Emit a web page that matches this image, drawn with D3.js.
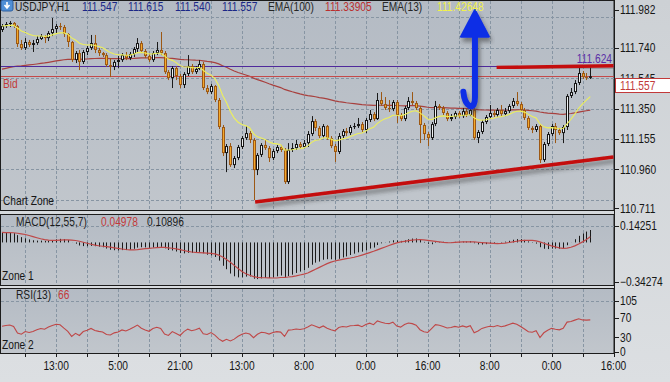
<!DOCTYPE html>
<html>
<head>
<meta charset="utf-8">
<title>USDJPY H1</title>
<script src="https://d3js.org/d3.v7.min.js"></script>
<style>
  body { margin: 0; background: #d3d6d9; }
  svg text { font-family: "Liberation Sans", Arial, sans-serif; font-size: 12px; }
</style>
</head>
<body>
<div id="chart"></div>
<script>
// ---- data (H1 bars, oldest first) ----
var firstOpen = 111.854;
var closes = [
  111.879,111.892,111.899,111.879,111.764,111.738,111.777,111.758,111.770,111.796,
  111.815,111.802,111.834,111.860,111.879,111.873,111.828,111.777,111.661,111.706,
  111.649,111.713,111.738,111.770,111.726,111.706,111.693,111.629,111.617,111.649,
  111.661,111.693,111.674,111.700,111.732,111.770,111.719,111.687,111.661,111.706,
  111.726,111.706,111.584,111.546,111.610,111.559,111.501,111.572,111.623,111.584,
  111.604,111.636,111.482,111.456,111.495,111.405,111.232,111.065,111.110,110.988,
  111.033,111.104,111.161,111.193,111.149,110.956,111.053,111.117,111.097,111.033,
  111.078,111.104,111.085,110.879,111.085,111.097,111.123,111.104,111.129,111.187,
  111.270,111.226,111.174,111.238,111.161,111.110,111.072,111.174,111.206,111.193,
  111.232,111.238,111.251,111.213,111.277,111.315,111.283,111.405,111.379,111.354,
  111.347,111.392,111.309,111.283,111.354,111.399,111.386,111.354,111.245,111.187,
  111.161,111.251,111.367,111.354,111.322,111.283,111.296,111.322,111.302,111.334,
  111.309,111.341,111.161,111.200,111.264,111.296,111.322,111.309,111.341,111.315,
  111.334,111.367,111.399,111.379,111.341,111.290,111.226,111.213,111.238,111.020,
  111.123,111.187,111.238,111.213,111.193,111.232,111.431,111.456,111.514,111.578,
  111.552,111.547,111.557];
var highs = [
  111.892,111.905,111.911,111.905,111.886,111.790,111.802,111.790,111.790,111.815,
  111.828,111.822,111.847,111.931,111.892,111.899,111.886,111.834,111.783,111.719,
  111.726,111.726,111.751,111.822,111.822,111.738,111.713,111.706,111.674,111.661,
  111.687,111.706,111.713,111.713,111.745,111.802,111.783,111.732,111.700,111.719,
  111.777,111.841,111.719,111.597,111.623,111.623,111.572,111.584,111.693,111.636,
  111.623,111.661,111.649,111.501,111.508,111.501,111.418,111.245,111.123,111.129,
  111.046,111.117,111.174,111.238,111.206,111.161,111.065,111.129,111.149,111.110,
  111.091,111.117,111.117,111.097,111.129,111.129,111.149,111.136,111.149,111.206,
  111.302,111.283,111.238,111.251,111.245,111.174,111.123,111.193,111.219,111.226,
  111.245,111.258,111.290,111.264,111.290,111.341,111.328,111.450,111.456,111.424,
  111.405,111.405,111.405,111.322,111.367,111.424,111.456,111.399,111.367,111.258,
  111.200,111.264,111.399,111.379,111.367,111.334,111.315,111.334,111.334,111.354,
  111.347,111.367,111.354,111.213,111.277,111.309,111.373,111.341,111.354,111.373,
  111.354,111.379,111.418,111.456,111.392,111.354,111.302,111.238,111.251,111.251,
  111.136,111.200,111.251,111.258,111.226,111.245,111.443,111.482,111.533,111.610,
  111.591,111.578,111.615];
var lows = [
  111.841,111.867,111.873,111.867,111.745,111.726,111.726,111.745,111.713,111.758,
  111.790,111.770,111.783,111.815,111.834,111.854,111.809,111.745,111.649,111.642,
  111.597,111.636,111.693,111.726,111.706,111.687,111.681,111.617,111.552,111.597,
  111.610,111.649,111.661,111.661,111.681,111.713,111.706,111.674,111.649,111.649,
  111.693,111.693,111.572,111.533,111.482,111.533,111.482,111.482,111.559,111.572,
  111.572,111.597,111.469,111.443,111.443,111.392,111.219,111.046,110.943,110.976,
  110.969,111.020,111.091,111.149,111.129,110.764,110.924,111.040,111.085,111.008,
  111.020,111.065,111.072,110.867,110.867,111.072,111.085,111.091,111.097,111.104,
  111.174,111.206,111.161,111.161,111.149,111.097,111.008,111.059,111.161,111.174,
  111.181,111.219,111.226,111.200,111.193,111.264,111.270,111.277,111.367,111.341,
  111.328,111.334,111.258,111.270,111.270,111.341,111.373,111.341,111.129,111.149,
  111.110,111.149,111.238,111.341,111.309,111.270,111.270,111.283,111.290,111.290,
  111.296,111.302,111.149,111.129,111.187,111.251,111.283,111.296,111.296,111.302,
  111.302,111.322,111.354,111.367,111.328,111.277,111.213,111.193,111.200,111.001,
  111.008,111.110,111.174,111.129,111.181,111.129,111.213,111.418,111.443,111.501,
  111.540,111.533,111.540];

// indicator start values (taken from the left edge of the picture)
var ema13Seed = 111.880, ema100Seed = 111.597;
var macdFastSeed = 111.880, macdSlowSeed = 111.790;
var rsiGainSeed = 0.016, rsiLossSeed = 0.016;

// axis ticks
var priceLabels = [111.982, 111.740, 111.545, 111.350, 111.155, 110.960, 110.711];
var priceGrid = [111.935, 111.740, 111.545, 111.350, 111.155, 110.960, 110.765];
var macdLabels = [0.14251, -0.34274];
var rsiLabels = [105, 70, 30, 0];
var timeLabels = ["13:00", "5:00", "21:00", "13:00", "8:00", "0:00", "16:00", "8:00", "0:00", "16:00"];
var timeLabelBars = [14, 30, 46, 62, 78, 94, 110, 126, 142, 158];

// levels and drawn objects
var purpleLevel = 111.624, bidPrice = 111.557;
var resistance = { b0: 127.8, p0: 111.613, b1: 158, p1: 111.624 };
var support = { b0: 65.4, p0: 110.751, b1: 158, p1: 111.040 };
var arrowMark = { bar: 122.2, top: 111.982, base: 111.811, bottom: 111.372, hookBar: 119.2, hookTop: 111.458 };

// readouts shown in the picture
var header = { symbol: "USDJPY,H1", o: "111.547", h: "111.615", l: "111.540", c: "111.557",
  ema100: "111.33905", ema13: "111.42648" };
var macdReadout = { signal: "0.04978", main: "0.10896" };
var rsiReadout = "66";

// ---- indicators ----
function ema(vals, period, seed) {
  var k = 2 / (period + 1), prev = seed;
  return vals.map(function(v) { prev = prev + k * (v - prev); return prev; });
}
var opens = [firstOpen].concat(closes.slice(0, -1));
var ema13 = ema(closes, 13, ema13Seed);
var ema100 = ema(closes, 100, ema100Seed);
var fast = ema(closes, 12, macdFastSeed), slow = ema(closes, 55, macdSlowSeed);
var macd = fast.map(function(v, i) { return v - slow[i]; });
var signal = macd.map(function(v, i) { return d3.mean(macd.slice(Math.max(0, i - 6), i + 1)); });
var rsi = [];
(function() {
  var ag = rsiGainSeed, al = rsiLossSeed, prev = firstOpen;
  closes.forEach(function(c) {
    var ch = c - prev; prev = c;
    ag = (ag * 12 + Math.max(ch, 0)) / 13;
    al = (al * 12 + Math.max(-ch, 0)) / 13;
    rsi.push(100 - 100 / (1 + ag / al));
  });
})();

// ---- layout ----
var width = 670, height = 382;
var axisX = 614;
var narrow = 0.85;   // the terminal font is a condensed one
var mainP = { top: 0, bottom: 210 }, macdP = { top: 214, bottom: 285 }, rsiP = { top: 288, bottom: 353 };

var x = d3.scaleLinear().domain([0, 158]).range([2, 613.5]);
var y = d3.scaleLinear().domain([110.711, 111.982]).range([208.3, 10]);
var yM = d3.scaleLinear().domain([-0.34274, 0.14251]).range([282, 226]);
var yR = d3.scaleLinear().domain([0, 105]).range([352, 301]);

var svg = d3.select("#chart").append("svg").attr("width", width).attr("height", height);
var defs = svg.append("defs");

var bgGrad = defs.append("linearGradient").attr("id", "bg").attr("x1", 0).attr("y1", 0).attr("x2", 0).attr("y2", 1);
bgGrad.append("stop").attr("offset", "0%").attr("stop-color", "#cdd1d5");
bgGrad.append("stop").attr("offset", "100%").attr("stop-color", "#dcdfe2");
var panGrad = defs.append("linearGradient").attr("id", "pan").attr("x1", 0).attr("y1", 0).attr("x2", 0).attr("y2", 1);
panGrad.append("stop").attr("offset", "0%").attr("stop-color", "#b4bbc4");
panGrad.append("stop").attr("offset", "100%").attr("stop-color", "#c1c6cc");

var shadow = defs.append("filter").attr("id", "shadow").attr("x", "-20%").attr("y", "-50%").attr("width", "140%").attr("height", "200%");
shadow.append("feDropShadow").attr("dx", 2).attr("dy", 4).attr("stdDeviation", 2)
  .attr("flood-color", "#3a3a3a").attr("flood-opacity", 0.55);

svg.append("rect").attr("width", width).attr("height", height).attr("fill", "url(#bg)");

[mainP, macdP, rsiP].forEach(function(p, i) {
  defs.append("clipPath").attr("id", "clip" + i).append("rect")
    .attr("x", 1).attr("y", p.top).attr("width", axisX - 1).attr("height", p.bottom - p.top);
  svg.append("rect").attr("x", 0.5).attr("y", p.top + 0.5).attr("width", axisX - 0.5).attr("height", p.bottom - p.top)
    .attr("fill", "url(#pan)").attr("stroke", "#1c1c1c");
});

var gridBars = d3.range(0, 19).map(function(k) { return 6 + 8 * k; });
function vGrid(p) {
  svg.append("g").selectAll("line").data(gridBars).enter().append("line")
    .attr("x1", function(b) { return Math.round(x(b)) + 0.5; })
    .attr("x2", function(b) { return Math.round(x(b)) + 0.5; })
    .attr("y1", p.top + 1).attr("y2", p.bottom)
    .attr("stroke", "#8795a3").attr("stroke-dasharray", "3,2");
}
[mainP, macdP, rsiP].forEach(vGrid);

function hGrid(vals, scale) {
  svg.append("g").selectAll("line").data(vals).enter().append("line")
    .attr("x1", 1).attr("x2", axisX)
    .attr("y1", function(v) { return Math.round(scale(v)) + 0.5; })
    .attr("y2", function(v) { return Math.round(scale(v)) + 0.5; })
    .attr("stroke", "#8795a3").attr("stroke-dasharray", "3,2");
}
hGrid(priceGrid, y);
hGrid([macdLabels[0]], yM);
hGrid([105], yR);

// ---- main chart ----
var main = svg.append("g").attr("clip-path", "url(#clip0)");
var bars = d3.range(closes.length);

main.append("path").datum(bars)
  .attr("fill", "none").attr("stroke", "#a8403e").attr("stroke-width", 1.2)
  .attr("d", d3.line().x(function(i) { return x(i); }).y(function(i) { return y(ema100[i]); }));

main.append("line").attr("x1", 1).attr("x2", axisX)
  .attr("y1", Math.round(y(purpleLevel)) + 0.5).attr("y2", Math.round(y(purpleLevel)) + 0.5)
  .attr("stroke", "#4f2a9c").attr("stroke-width", 1);
main.append("line").attr("x1", 1).attr("x2", axisX)
  .attr("y1", Math.round(y(bidPrice)) + 0.5).attr("y2", Math.round(y(bidPrice)) + 0.5)
  .attr("stroke", "#c44a4a").attr("stroke-width", 1);

var candle = main.append("g").selectAll("g").data(bars).enter().append("g");
candle.each(function(i) {
  var g = d3.select(this);
  var o = opens[i], c = closes[i];
  var hi = Math.max(highs[i], o, c), lo = Math.min(lows[i], o, c);
  var up = c >= o;
  var cx = Math.round(x(i));
  var edge = up ? "#151515" : "#9c5814";
  var body = up ? "#eef0f2" : "#f4a92c";
  g.append("rect").attr("x", cx).attr("width", 1)
    .attr("y", y(hi)).attr("height", Math.max(1, y(lo) - y(hi))).attr("fill", up ? "#1a1a1a" : "#9c5814");
  var top = y(Math.max(o, c)), bot = y(Math.min(o, c));
  var h = Math.max(1, bot - top);
  g.append("rect").attr("x", cx - 1).attr("width", 3).attr("y", top).attr("height", h).attr("fill", edge);
  if (h > 2) {
    g.append("rect").attr("x", cx).attr("width", 1).attr("y", top + 1).attr("height", h - 2).attr("fill", body);
  }
});

main.append("path").datum(bars)
  .attr("fill", "none").attr("stroke", "#eef05a").attr("stroke-width", 1.1)
  .attr("d", d3.line().x(function(i) { return x(i); }).y(function(i) { return y(ema13[i]); }));

// drawn trend lines
[resistance, support].forEach(function(t) {
  main.append("line")
    .attr("x1", x(t.b0)).attr("y1", y(t.p0)).attr("x2", x(t.b1)).attr("y2", y(t.p1))
    .attr("stroke", "#c40d0d").attr("stroke-width", 3.5).attr("filter", "url(#shadow)");
});

// blue arrow
(function() {
  var ax = x(arrowMark.bar), yt = y(arrowMark.top), yb = y(arrowMark.base), ybot = y(arrowMark.bottom);
  var hx = x(arrowMark.hookBar), hy = y(arrowMark.hookTop);
  var g = main.append("g").attr("filter", "url(#shadow)");
  g.append("path")
    .attr("d", "M" + ax + "," + (yb - 1) + " L" + ax + "," + (ybot - 8) +
      " Q" + ax + "," + (ybot + 2) + " " + (ax - 5) + "," + (ybot + 1) +
      " Q" + (hx + 1) + "," + (ybot - 2) + " " + hx + "," + hy)
    .attr("fill", "none").attr("stroke", "#0b2fe6").attr("stroke-width", 6).attr("stroke-linecap", "round");
  g.append("path")
    .attr("d", "M" + ax + "," + yt + " L" + (ax + 14) + "," + yb + " L" + (ax - 14) + "," + yb + " Z")
    .attr("fill", "#0b2fe6").attr("stroke", "#0b2fe6").attr("stroke-linejoin", "round").attr("stroke-width", 2);
})();

// ---- MACD ----
var gm = svg.append("g").attr("clip-path", "url(#clip1)");
gm.append("g").selectAll("line").data(bars).enter().append("line")
  .attr("x1", function(i) { return Math.round(x(i)) + 0.5; })
  .attr("x2", function(i) { return Math.round(x(i)) + 0.5; })
  .attr("y1", yM(0)).attr("y2", function(i) { return yM(macd[i]); })
  .attr("stroke", "#1a1a1a").attr("stroke-width", 1);
gm.append("path").datum(bars)
  .attr("fill", "none").attr("stroke", "#bf4747").attr("stroke-width", 1.2)
  .attr("d", d3.line().x(function(i) { return x(i); }).y(function(i) { return yM(signal[i]); }));

// ---- RSI ----
var gr = svg.append("g").attr("clip-path", "url(#clip2)");
gr.append("path").datum(bars)
  .attr("fill", "none").attr("stroke", "#bf4747").attr("stroke-width", 1.1)
  .attr("d", d3.line().x(function(i) { return x(i); }).y(function(i) { return yR(rsi[i]); }));

// narrow text helper: position by transform, squeeze horizontally
function place(sel, fx, fy) {
  return sel.attr("transform", function(d, i) {
    return "translate(" + fx(d, i) + "," + fy(d, i) + ") scale(" + narrow + ",1)";
  });
}

// ---- right axis ----
svg.append("line").attr("x1", axisX + 0.5).attr("x2", axisX + 0.5).attr("y1", 0).attr("y2", rsiP.bottom + 4)
  .attr("stroke", "#1c1c1c");
function rightLabels(vals, scale, fmt) {
  var g = svg.append("g");
  g.selectAll("line").data(vals).enter().append("line")
    .attr("x1", axisX).attr("x2", axisX + 5)
    .attr("y1", function(v) { return Math.round(scale(v)) + 0.5; })
    .attr("y2", function(v) { return Math.round(scale(v)) + 0.5; })
    .attr("stroke", "#1c1c1c");
  place(g.selectAll("text").data(vals).enter().append("text"),
      function() { return axisX + 6; }, function(v) { return scale(v); })
    .attr("dy", "0.36em").attr("fill", "#161616").text(fmt);
}
rightLabels(priceLabels, y, d3.format(".3f"));
rightLabels(macdLabels, yM, d3.format(".5f"));
rightLabels(rsiLabels, yR, d3.format("d"));

function label(tx, ty, str, col, anchor) {
  return svg.append("text").attr("transform", "translate(" + tx + "," + ty + ") scale(" + narrow + ",1)")
    .attr("text-anchor", anchor || "start").attr("fill", col).text(str);
}

// purple level tag and bid box
label(612, y(purpleLevel) - 3, d3.format(".3f")(purpleLevel), "#5a2ea6", "end");
svg.append("rect").attr("x", 615.5).attr("y", 78.5).attr("width", 56).attr("height", 14)
  .attr("fill", "#ffffff").attr("stroke", "#c23a3a");
label(620, 89.5, d3.format(".3f")(bidPrice), "#c23a3a");

// ---- time axis ----
var ta = svg.append("g");
ta.selectAll("line").data(gridBars.concat([158])).enter().append("line")
  .attr("x1", function(b) { return Math.round(x(b)) + 0.5; })
  .attr("x2", function(b) { return Math.round(x(b)) + 0.5; })
  .attr("y1", rsiP.bottom).attr("y2", rsiP.bottom + 4).attr("stroke", "#1c1c1c");
place(ta.selectAll("text").data(timeLabels).enter().append("text"),
    function(d, i) { return x(timeLabelBars[i]); }, function() { return 370; })
  .attr("text-anchor", "middle").attr("fill", "#161616").text(function(d) { return d; });

// ---- header and panel captions ----
var icon = svg.append("g").attr("transform", "translate(1,0)");
icon.append("rect").attr("width", 12).attr("height", 11).attr("rx", 2).attr("fill", "#4f8fd6").attr("stroke", "#2f5f9f");
icon.append("path").attr("d", "M6,2 L6,7 M3.5,5 L6,8 L8.5,5").attr("stroke", "#ffffff").attr("stroke-width", 1.6).attr("fill", "none");

label(15, 10.5, header.symbol, "#1c1c1c");
label(82, 10.5, header.o, "#1b2787");
label(128, 10.5, header.h, "#1b2787");
label(175, 10.5, header.l, "#1b2787");
label(222, 10.5, header.c, "#1b2787");
label(268, 10.5, "EMA(100)", "#262626");
label(325, 10.5, header.ema100, "#bb2e2e");
label(382, 10.5, "EMA(13)", "#262626");
label(437, 10.5, header.ema13, "#f2f24a");

label(3, 88, "Bid", "#c23a3a");
label(3, 205, "Chart Zone", "#161616");

label(16, 226, "MACD(12,55,7)", "#1c1c1c");
label(101, 226, macdReadout.signal, "#c23a3a");
label(147, 226, macdReadout.main, "#1c1c1c");
label(2, 280, "Zone 1", "#161616");

label(16, 299, "RSI(13)", "#1c1c1c");
label(58, 299, rsiReadout, "#c23a3a");
label(2, 349, "Zone 2", "#161616");
</script>
</body>
</html>
